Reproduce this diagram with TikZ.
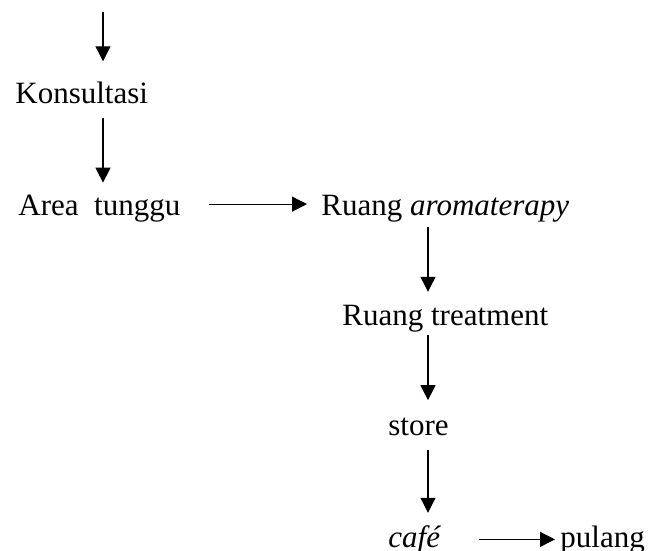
\documentclass[tikz,border=0pt]{standalone}
\usepackage{fontspec}
\setmainfont{Liberation Serif}
\usetikzlibrary{arrows.meta}
\tikzset{lbl/.style={inner sep=0pt,anchor=base west,font=\fontsize{15.5}{18}\selectfont},
  flow/.style={-{Triangle[length=7.5pt,width=7.5pt]},line width=0.6pt}}

\begin{document}
\begin{tikzpicture}[x=0.5pt,y=-0.5pt]
        \useasboundingbox (0,0) rectangle (659,551);
        \node[lbl] (kons) at (15,104) {Konsultasi};
        \node[lbl] (area) at (18,215) {Area\ \ tunggu};
        \node[lbl] (aroma) at (321,215) {Ruang \textit{aromaterapy}};
        \node[lbl] (treat) at (342,325) {Ruang treatment};
        \node[lbl] (store) at (388,435) {store};
        \node[lbl] (cafe) at (388,547) {\textit{café}};
        \node[lbl] (pulang) at (560,547) {pulang};
        \coordinate (start) at (103,12);
        \coordinate (colR) at (428,0);

        \draw [flow,shorten >=10.4pt] (start) to (start |- kons.north);
        \draw [flow,shorten <=6.5pt,shorten >=5.75pt] (start |- kons.south) to (start |- area.north);
        \draw [flow,shorten <=14pt,shorten >=7pt] ([yshift=2pt]area.east) to ([yshift=2pt]area.east -| aroma.west);
        \draw [flow,shorten <=2.65pt,shorten >=6.25pt] (colR |- aroma.south) to (colR |- treat.north);
        \draw [flow,shorten <=1.65pt,shorten >=8.5pt] (colR |- treat.south) to (colR |- store.north);
        \draw [flow,shorten <=7pt,shorten >=6pt] (colR |- store.south) to (colR |- cafe.north);
        \draw [flow,shorten <=18.5pt,shorten >=2.5pt] (cafe.east) to (cafe.east -| pulang.west);
    \end{tikzpicture}
\end{document}
